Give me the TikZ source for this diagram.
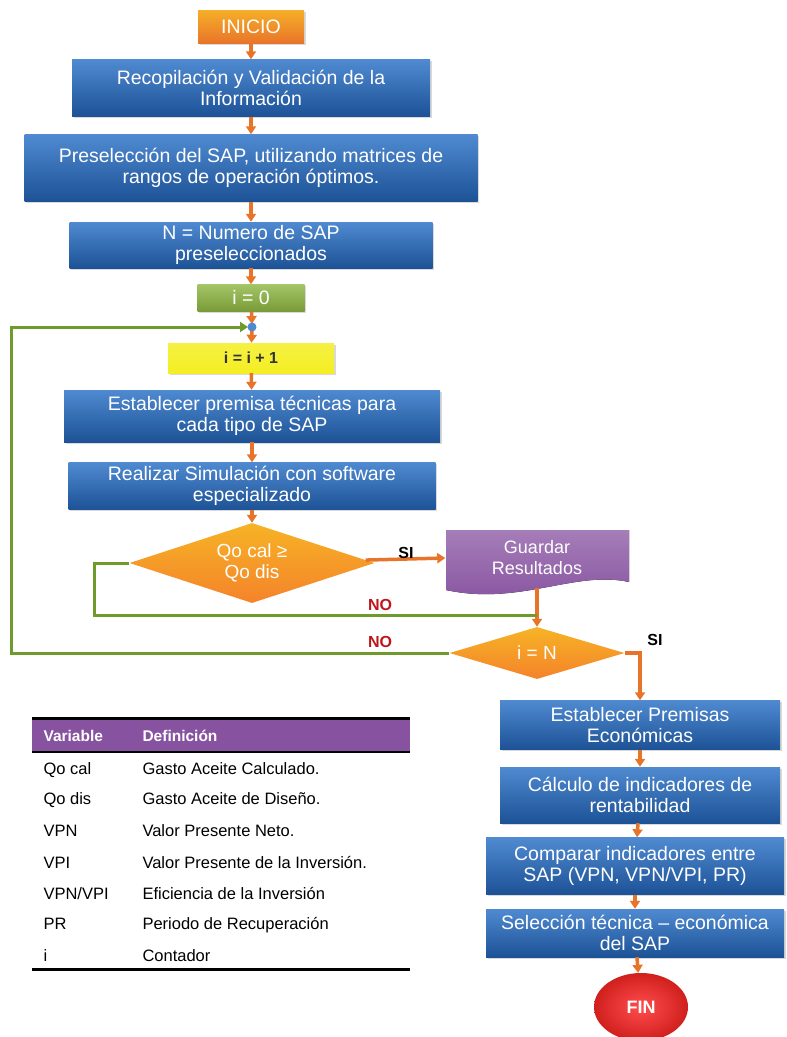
\documentclass[tikz,border=0pt]{standalone}
\usepackage{fontspec}
\setmainfont{Liberation Sans}
\usetikzlibrary{shapes.geometric, arrows.meta, shadows}

\definecolor{boxtop}{HTML}{4F8AD1}
\definecolor{boxbot}{HTML}{1D5296}
\definecolor{flechanar}{HTML}{E8742A}
\definecolor{naranja}{HTML}{F39A32}
\definecolor{verde}{HTML}{6F9A2C}
\definecolor{verdebox}{HTML}{8DB640}
\definecolor{amarillo}{HTML}{F4EE22}
\definecolor{morado}{HTML}{8752A0}
\definecolor{rojo}{HTML}{D0201E}
\definecolor{rojono}{HTML}{C0141A}

\tikzset{
    caja/.style = {rectangle, top color = boxtop, bottom color = boxbot, text = white, align = center, inner sep = 0pt,
        drop shadow = {opacity = .3, shadow xshift = 1.5pt, shadow yshift = -1.5pt}, font = \fontsize{19.5}{21}\selectfont},
    decision/.style = {diamond, aspect = 3, top color = naranja!75!yellow, bottom color = naranja!85!red, text = white, align = center,
        inner sep = 0pt, font = \fontsize{19}{21}\selectfont},
    flecha/.style = {->, flechanar, line width = 3.5pt},
    retorno/.style = {verde, line width = 3pt},
    etiq/.style = {font = \fontsize{16}{18}\selectfont\bfseries},
    celda/.style = {anchor = base west, font = \fontsize{16.5}{18}\selectfont}
}

\begin{document}
\begin{tikzpicture}[x = 1pt, y = -1pt, >={Triangle[length = 8pt, width = 10pt]}]
    \useasboundingbox (0,0) rectangle (787,1037);

    \node[caja, top color = naranja!80!yellow, bottom color = flechanar, minimum width = 106pt, minimum height = 33pt] (inicio) at (251,27) {INICIO};
    \node[caja, minimum width = 358pt, minimum height = 57pt] (recop) at (251,88) {Recopilación y Validación de la\\Información};
    \node[caja, minimum width = 453pt, minimum height = 67pt] (presel) at (251,168) {Preselección del SAP, utilizando matrices de\\rangos de operación óptimos.};
    \node[caja, minimum width = 363pt, minimum height = 46pt] (numsap) at (251,245) {N = Numero de SAP\\preseleccionados};
    \node[caja, top color = verdebox!80!white, bottom color = verdebox!85!black, minimum width = 107pt, minimum height = 27pt] (izero) at (251,298) {i = 0};
    \coordinate (j) at (252,327);
    \node[caja, top color = amarillo!85!white, bottom color = amarillo, text = black!80, font = \fontsize{16}{18}\selectfont\bfseries, minimum width = 166pt, minimum height = 30pt] (incr) at (251,358) {i = i + 1};
    \node[caja, minimum width = 376pt, minimum height = 52pt] (estab) at (252,416) {Establecer premisa técnicas para\\cada tipo de SAP};
    \node[caja, minimum width = 367pt, minimum height = 47pt] (simul) at (252,486) {Realizar Simulación con software\\especializado};
    \node[decision, minimum width = 245pt, minimum height = 80pt] (dec1) at (252,563) {Qo cal ≥\\Qo dis};

    \fill[top color = morado!75!white, bottom color = morado] (446,530) -- (629,530) -- (629,582) .. controls (575,570) and (520,606) .. (446,590) -- cycle;
    \node[text = white, align = center, font = \fontsize{18}{21}\selectfont, minimum width = 183pt, minimum height = 60pt] (guardar) at (537,558) {Guardar\\Resultados};

    \node[decision, minimum width = 175pt, minimum height = 52pt] (dec2) at (537,653) {i = N};
    \coordinate (unir) at (537,615);

    \node[caja, minimum width = 280pt, minimum height = 49pt] (econ) at (640,725) {Establecer Premisas\\Económicas};
    \node[caja, minimum width = 280pt, minimum height = 56pt] (calc) at (640,795) {Cálculo de indicadores de\\rentabilidad};
    \node[caja, minimum width = 298pt, minimum height = 57pt] (comp) at (635,866) {Comparar indicadores entre\\SAP (VPN, VPN/VPI, PR)};
    \node[caja, minimum width = 298pt, minimum height = 48pt] (sel) at (635,933) {Selección técnica -- económica\\del SAP};
    \node[ellipse, shading = radial, inner color = red!70!white, outer color = rojo, text = white, font = \fontsize{18}{20}\selectfont\bfseries, minimum width = 94pt, minimum height = 68pt] (fin) at (641,1007) {FIN};

    \draw[flecha] (inicio) -- (recop);
    \draw[flecha] (recop) -- (presel);
    \draw[flecha] (presel) -- (numsap);
    \draw[flecha] (numsap) -- (izero);
    \draw[flecha, shorten >= 3pt] (izero) -- (j);
    \draw[flecha] (j) -- (incr);
    \draw[flecha] (incr) -- (estab);
    \draw[flecha] (estab) -- (simul);
    \draw[flecha] (simul) -- (dec1);
    \draw[flecha] (dec1) -- (guardar.west);
    \draw[flecha] (guardar.south) -- (dec2);
    \draw[flecha] (dec2.east) -| (econ.north);
    \draw[flecha] (econ) -- (calc);
    \draw[flecha] (calc) -- (comp);
    \draw[flecha] (comp) -- (sel);
    \draw[flecha] (sel) -- (fin);

    \draw[retorno] (dec1.west) -- ++(-35,0) |- (unir);
    \draw[retorno, ->, shorten >= 4pt] (dec2.west) -- ++(-438,0) |- (j);
    \fill[boxtop] (j) circle (4.5pt);

    \node[etiq] (si1) at (406,553) {SI};
    \node[etiq, text = rojono] (no1) at (380,605) {NO};
    \node[etiq, text = rojono] (no2) at (380,642) {NO};
    \node[etiq] (si2) at (655,640) {SI};

    \fill[morado] (32,718) rectangle (410,752);
    \draw[line width = 3pt] (32,718) -- (410,718);
    \draw[line width = 2.5pt] (32,752) -- (410,752);
    \draw[line width = 3pt] (32,969) -- (410,969);
    \node[celda, text = white, font = \fontsize{15.5}{18}\selectfont\bfseries] (hvar) at (40,741) {Variable};
    \node[celda, text = white, font = \fontsize{15.5}{18}\selectfont\bfseries] (hdef) at (139,741) {Definición};
    \node[celda] (v1) at (40,774) {Qo cal};
    \node[celda] (d1) at (139,774) {Gasto Aceite Calculado.};
    \node[celda] (v2) at (40,804) {Qo dis};
    \node[celda] (d2) at (139,804) {Gasto Aceite de Diseño.};
    \node[celda] (v3) at (40,836) {VPN};
    \node[celda] (d3) at (139,836) {Valor Presente Neto.};
    \node[celda] (v4) at (40,868) {VPI};
    \node[celda] (d4) at (139,868) {Valor Presente de la Inversión.};
    \node[celda] (v5) at (40,899) {VPN/VPI};
    \node[celda] (d5) at (139,899) {Eficiencia de la Inversión};
    \node[celda] (v6) at (40,929) {PR};
    \node[celda] (d6) at (139,929) {Periodo de Recuperación};
    \node[celda] (v7) at (40,961) {i};
    \node[celda] (d7) at (139,961) {Contador};
\end{tikzpicture}
\end{document}
